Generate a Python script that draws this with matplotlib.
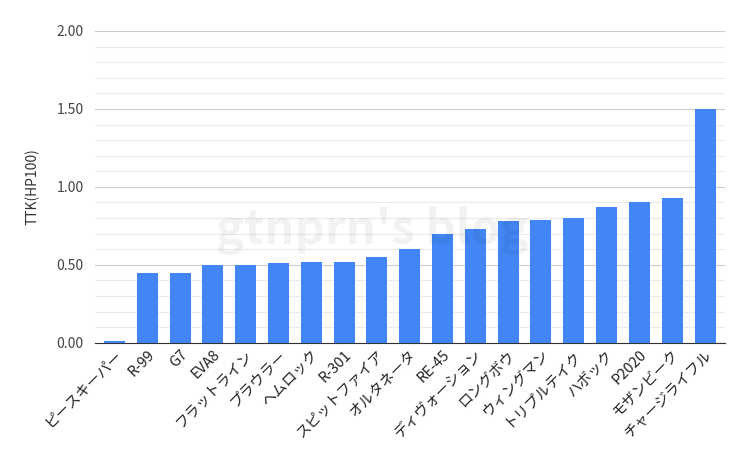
import numpy as np
import matplotlib.pyplot as plt
from matplotlib.ticker import MultipleLocator

plt.rcParams['font.family'] = ['Noto Sans CJK JP', 'DejaVu Sans']

weapons = ["ピースキーパー", "R-99", "G7", "EVA8", "フラットライン", "プラウラー",
           "ヘムロック", "R-301", "スピットファイア", "オルタネータ", "RE-45",
           "ディヴォーション", "ロングボウ", "ウィングマン", "トリプルテイク",
           "ハボック", "P2020", "モザンビーク", "チャージライフル"]
ttk = [0.01, 0.45, 0.45, 0.50, 0.50, 0.51, 0.52, 0.52, 0.55, 0.60, 0.70,
       0.73, 0.78, 0.79, 0.80, 0.87, 0.90, 0.93, 1.50]

fig = plt.figure(figsize=(7.41, 4.62), dpi=100)
ax = fig.add_axes([0.128, 0.258, 0.85, 0.675])

x = np.arange(len(weapons))
ax.bar(x, ttk, width=0.64, color="#4285f4", zorder=3)

ax.set_ylim(0, 2.0)
ax.set_xlim(-0.6, len(weapons) - 0.4)
ax.yaxis.set_major_locator(MultipleLocator(0.5))
ax.yaxis.set_minor_locator(MultipleLocator(0.1))
ax.yaxis.set_major_formatter(lambda v, p: f"{v:.2f}")
ax.grid(axis="y", which="major", color="#cccccc", lw=0.8, zorder=0)
ax.grid(axis="y", which="minor", color="#ebebeb", lw=0.8, zorder=0)
ax.tick_params(axis="y", which="both", length=0, labelsize=10, colors="#444444", pad=8)
ax.tick_params(axis="x", length=0, labelsize=10.5, colors="#222222")
ax.set_xticks(x)
ax.set_xticklabels(weapons, rotation=45, ha="right", rotation_mode="anchor")
for s in ["top", "right", "left"]:
    ax.spines[s].set_visible(False)
ax.spines["bottom"].set_color("#333333")
ax.set_ylabel("TTK(HP100)", fontsize=10, color="#333333", labelpad=12)

ax.text(0.44, 0.36, "gtnprn's blog", transform=ax.transAxes, ha="center", va="center",
        fontsize=34, color="#000000", alpha=0.05, fontweight="bold", zorder=5)

fig.savefig("out.png", dpi=100)
